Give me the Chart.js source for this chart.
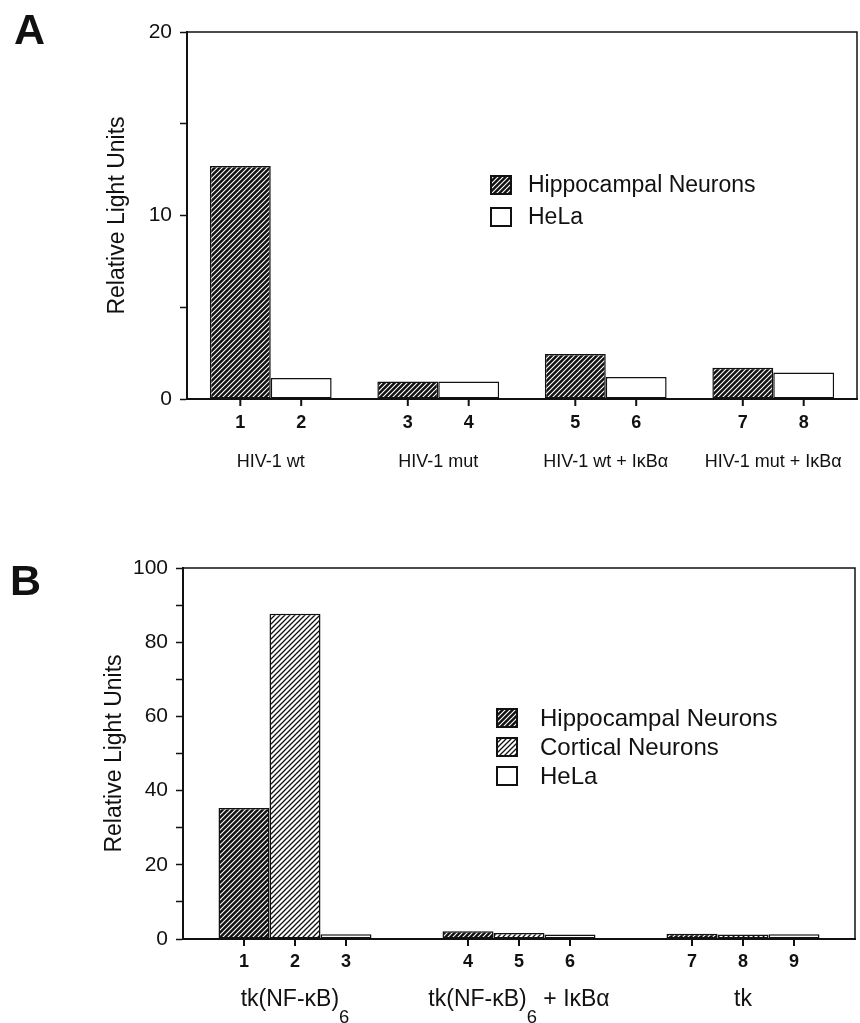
<!DOCTYPE html>
<html>
<head>
<meta charset="utf-8">
<script src="https://cdn.jsdelivr.net/npm/chart.js@4.4.1/dist/chart.umd.min.js"></script>
<style>
  body { margin: 0; background: #fff; }
  canvas { position: absolute; left: 0; }
  #chartA { top: 0; }
  #chartB { top: 470px; }
</style>
</head>
<body>
<canvas id="chartA" width="860" height="470"></canvas>
<canvas id="chartB" width="860" height="553"></canvas>
<script>
const FONT = '"Liberation Sans", Arial, Helvetica, sans-serif';
const INK = "#111";

// panel A data
const groupsA = ["HIV-1 wt", "HIV-1 mut", "HIV-1 wt + IκBα", "HIV-1 mut + IκBα"];
const hippoA = [12.7, 0.95, 2.45, 1.7];
const helaA = [1.15, 0.95, 1.2, 1.45];
const lanesA = ["1", "2", "3", "4", "5", "6", "7", "8"];

// panel B data ("_6" = subscript)
const groupsB = ["tk(NF-κB)_6", "tk(NF-κB)_6 + IκBα", "tk"];
const hippoB = [35.3, 2.1, 1.4];
const corticalB = [87.7, 1.6, 1.2];
const helaB = [1.3, 1.2, 1.3];
const lanesB = ["1", "2", "3", "4", "5", "6", "7", "8", "9"];

function hatch(ctx, bg, fg, size, lw) {
  const c = document.createElement("canvas");
  c.width = size;
  c.height = size;
  const g = c.getContext("2d");
  g.fillStyle = bg;
  g.fillRect(0, 0, size, size);
  g.strokeStyle = fg;
  g.lineWidth = lw;
  g.beginPath();
  g.moveTo(-1, size + 1); g.lineTo(size + 1, -1);
  g.moveTo(-1, 1); g.lineTo(1, -1);
  g.moveTo(size - 1, size + 1); g.lineTo(size + 1, size - 1);
  g.stroke();
  return ctx.createPattern(c, "repeat");
}

// label text with "_x" subscript
function drawLabel(ctx, text, cx, y, size, subSize) {
  const parts = text.split("_");
  const pieces = [{ t: parts[0], sub: false }];
  for (let i = 1; i < parts.length; i++) {
    pieces.push({ t: parts[i][0], sub: true });
    pieces.push({ t: parts[i].slice(1), sub: false });
  }
  const fontOf = (p) => (p.sub ? subSize : size) + "px " + FONT;
  let total = 0;
  pieces.forEach((p) => { ctx.font = fontOf(p); total += ctx.measureText(p.t).width; });
  let x = cx - total / 2;
  ctx.textAlign = "left";
  pieces.forEach((p) => {
    ctx.font = fontOf(p);
    ctx.fillText(p.t, x, p.sub ? y + size * 0.8 : y);
    x += ctx.measureText(p.t).width;
  });
}

const decor = {
  id: "decor",
  afterDraw(chart, args, o) {
    const { ctx, chartArea: a } = chart;
    ctx.save();
    ctx.strokeStyle = INK;
    ctx.fillStyle = INK;

    // top and right frame
    ctx.lineWidth = 1.5;
    ctx.beginPath();
    ctx.moveTo(a.left, a.top);
    ctx.lineTo(a.right, a.top);
    ctx.lineTo(a.right, a.bottom);
    ctx.stroke();

    // lane ticks and numbers under each bar
    const metas = chart.data.datasets.map((d, i) => chart.getDatasetMeta(i));
    ctx.textAlign = "center";
    ctx.textBaseline = "middle";
    ctx.font = "bold " + o.laneSize + "px " + FONT;
    ctx.lineWidth = 2;
    let n = 0;
    chart.data.labels.forEach((lab, j) => {
      metas.forEach((m) => {
        const bx = m.data[j].x;
        ctx.beginPath();
        ctx.moveTo(bx, a.bottom);
        ctx.lineTo(bx, a.bottom + 7);
        ctx.stroke();
        ctx.fillText(o.lanes[n++], bx, a.bottom + o.laneY);
      });
    });

    // group labels
    const x = chart.scales.x;
    chart.data.labels.forEach((lab, j) => {
      drawLabel(ctx, lab, x.getPixelForValue(j), a.bottom + o.groupY, o.groupSize, o.groupSize * 0.8);
    });

    // legend
    ctx.textAlign = "left";
    chart.data.datasets.forEach((d, i) => {
      const cy = o.legY + i * o.legRow;
      ctx.fillStyle = d.backgroundColor;
      ctx.fillRect(o.legX, cy - 9, 20, 18);
      ctx.lineWidth = 2;
      ctx.strokeRect(o.legX, cy - 9, 20, 18);
      ctx.fillStyle = INK;
      ctx.font = o.legSize + "px " + FONT;
      ctx.fillText(d.label, o.legTextX, cy + 1);
    });

    // panel letter
    ctx.font = "bold 43px " + FONT;
    ctx.textBaseline = "alphabetic";
    ctx.fillText(o.letter, o.letterX, o.letterY);
    ctx.restore();
  }
};

function makeChart(id, cfg) {
  const ctx = document.getElementById(id).getContext("2d");
  const dark = hatch(ctx, "#111", "#fff", 5, 1.1);
  const light = hatch(ctx, "#fff", "#111", 5, 1.3);
  const fills = { dark: dark, light: light, white: "#fff" };
  return new Chart(ctx, {
    type: "bar",
    data: {
      labels: cfg.groups,
      datasets: cfg.series.map((s) => ({
        label: s.label,
        data: s.data,
        backgroundColor: fills[s.fill],
        borderColor: INK,
        borderWidth: 1.5,
        borderSkipped: false,
        categoryPercentage: cfg.catPct,
        barPercentage: 1,
      })),
    },
    options: {
      responsive: false,
      animation: false,
      layout: { padding: cfg.padding },
      plugins: {
        legend: { display: false },
        tooltip: { enabled: false },
        decor: cfg.decor,
      },
      scales: {
        x: {
          grid: { display: false },
          ticks: { display: false },
          border: { color: INK, width: 2 },
          afterFit: (s) => { s.height = cfg.xHeight; },
        },
        y: {
          min: 0,
          max: cfg.max,
          ticks: {
            stepSize: cfg.step,
            padding: 8,
            color: INK,
            font: { family: FONT, size: 21 },
            callback: (v) => (v % cfg.labelEvery === 0 ? v : ""),
          },
          grid: { drawOnChartArea: false, tickLength: 7, tickWidth: 1.5, tickColor: INK },
          border: { color: INK, width: 2 },
          title: {
            display: true,
            text: "Relative Light Units",
            color: INK,
            font: { family: FONT, size: 23 },
            padding: { top: cfg.titlePad, bottom: 0 },
          },
          afterFit: (s) => { s.width = cfg.yWidth; },
        },
      },
    },
    plugins: [decor],
  });
}

makeChart("chartA", {
  groups: groupsA,
  series: [
    { label: "Hippocampal Neurons", data: hippoA, fill: "dark" },
    { label: "HeLa", data: helaA, fill: "white" },
  ],
  catPct: 0.727,
  max: 20, step: 5, labelEvery: 10,
  padding: { top: 32, right: 3, left: 0, bottom: 0 },
  xHeight: 71, yWidth: 187, titlePad: 104,
  decor: {
    lanes: lanesA, laneY: 24, laneSize: 18, groupY: 63, groupSize: 18,
    legX: 491, legTextX: 528, legY: 185, legRow: 32, legSize: 23,
    letter: "A", letterX: 14, letterY: 44,
  },
});

makeChart("chartB", {
  groups: groupsB,
  series: [
    { label: "Hippocampal Neurons", data: hippoB, fill: "dark" },
    { label: "Cortical Neurons", data: corticalB, fill: "light" },
    { label: "HeLa", data: helaB, fill: "white" },
  ],
  catPct: 0.683,
  max: 100, step: 10, labelEvery: 20,
  padding: { top: 98, right: 5, left: 0, bottom: 0 },
  xHeight: 84, yWidth: 183, titlePad: 101,
  decor: {
    lanes: lanesB, laneY: 23, laneSize: 18, groupY: 61, groupSize: 23,
    legX: 497, legTextX: 540, legY: 248, legRow: 29, legSize: 24,
    letter: "B", letterX: 10, letterY: 125,
  },
});
</script>
</body>
</html>
